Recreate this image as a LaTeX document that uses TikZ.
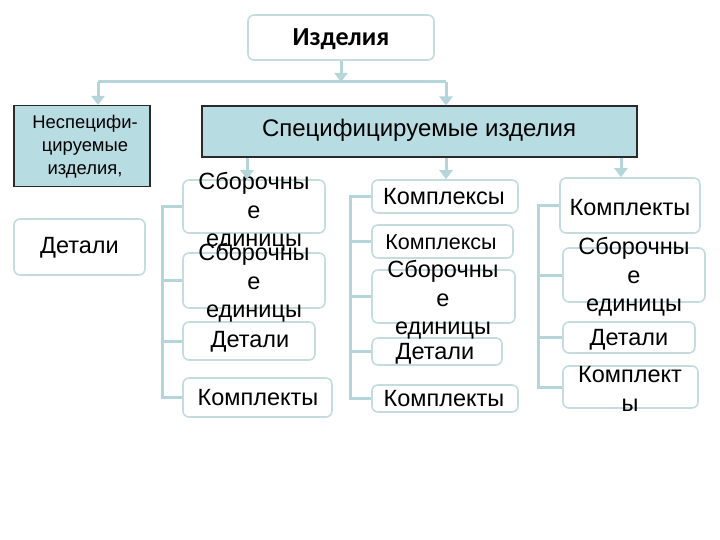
\documentclass[tikz,border=0pt]{standalone}
\usepackage{fontspec}
\setmainfont{Liberation Sans}
\newfontfamily\titlefont{Carlito}
\usetikzlibrary{arrows.meta}
\definecolor{linec}{HTML}{B4D6DB}
\definecolor{bordc}{HTML}{C4DCDE}
\definecolor{fillc}{HTML}{B7DDE2}
\definecolor{darkb}{HTML}{2A2A2A}
\tikzset{
  wbox/.style={draw=bordc, line width=1.6pt, rounded corners=6pt, fill=white, inner sep=0pt},
  fbox/.style={draw=darkb, line width=1.1pt, fill=fillc, inner sep=0pt},
  txt/.style={align=center, inner sep=0pt, text=black},
  conn/.style={draw=linec, line width=3pt},
  arr/.style={draw=linec, line width=3pt, -{Triangle[width=13pt,length=9pt]}},
  big/.style={font=\fontsize{23.5}{28.5}\selectfont}
}
\begin{document}
\begin{tikzpicture}[x=1pt,y=-1pt]
\useasboundingbox (0,0) rectangle (720,540);
% top
\node[wbox, minimum width=186pt, minimum height=45pt] (top) at (341,37.5) {};
\node[txt, font=\titlefont\bfseries\fontsize{26}{30}\selectfont] (topt) at (341,39) {Изделия};
% level 2
\node[fbox, minimum width=136pt, minimum height=81pt] (ns) at (82,146) {};
\node[txt, font=\fontsize{18.4}{23}\selectfont] (nst) at (85,147) {Неспецифи-\\цируемые\\изделия,};
\node[fbox, minimum width=435pt, minimum height=51pt] (sp) at (419.5,131.5) {};
\node[txt, font=\fontsize{24}{28}\selectfont] (spt) at (419,130) {Специфицируемые изделия};
\node[wbox, minimum width=131pt, minimum height=56pt] (ld) at (79.5,247) {};
\node[txt, big] (ldt) at (79.5,248) {Детали};
% connectors top
\coordinate (hl) at (98,82);
\coordinate (hr) at (446,82);
\draw[arr] (top.south) -- (top.south |- hl);
\draw[conn] (hl) -- (hr);
\draw[arr] (hl) -- (hl |- ns.north);
\draw[arr] (hr) -- (hr |- sp.north);
% column 1
\node[wbox, minimum width=142pt, minimum height=53pt] (a1) at (254,206.5) {};
\node[wbox, minimum width=142pt, minimum height=55pt] (a2) at (254,280.5) {};
\node[wbox, minimum width=132pt, minimum height=38pt] (a3) at (249,341) {};
\node[wbox, minimum width=149pt, minimum height=39pt] (a4) at (257.5,397.5) {};
\node[txt, big] (a1t) at (254,212) {Сборочны\\е\\единицы};
\node[txt, big] (a2t) at (254,283) {Сборочны\\е\\единицы};
\node[txt, big] (a3t) at (250,342) {Детали};
\node[txt, big] (a4t) at (258,398) {Комплекты};
\coordinate (c1) at (162,0);
\draw[conn] (a1.west) -- (a1.west -| c1) -- (a4.west -| c1) -- (a4.west);
\draw[conn] (a2.west -| c1) -- (a2.west);
\draw[conn] (a3.west -| c1) -- (a3.west);
% column 2
\node[wbox, minimum width=146pt, minimum height=33pt] (b1) at (445,196.5) {};
\node[wbox, minimum width=141pt, minimum height=33pt] (b2) at (442.5,241.5) {};
\node[wbox, minimum width=143pt, minimum height=53pt] (b3) at (443.5,296.5) {};
\node[wbox, minimum width=130pt, minimum height=27pt] (b4) at (437,351.5) {};
\node[wbox, minimum width=146pt, minimum height=27pt] (b5) at (445,398.5) {};
\node[txt, big] (b1t) at (444,197) {Комплексы};
\node[txt, font=\fontsize{21.5}{24}\selectfont] (b2t) at (441,242) {Комплексы};
\node[txt, big] (b3t) at (443,300) {Сборочны\\е\\единицы};
\node[txt, big] (b4t) at (435,354) {Детали};
\node[txt, big] (b5t) at (444,399) {Комплекты};
\coordinate (c2) at (350,0);
\draw[conn] (b1.west) -- (b1.west -| c2) -- (b5.west -| c2) -- (b5.west);
\draw[conn] (b2.west -| c2) -- (b2.west);
\draw[conn] (b3.west -| c2) -- (b3.west);
\draw[conn] (b4.west -| c2) -- (b4.west);
% column 3
\node[wbox, minimum width=140pt, minimum height=55pt] (d1) at (630,205.5) {};
\node[wbox, minimum width=142pt, minimum height=54pt] (d2) at (634,275) {};
\node[wbox, minimum width=132pt, minimum height=31pt] (d3) at (629,337.5) {};
\node[wbox, minimum width=135pt, minimum height=42pt] (d4) at (630.5,387) {};
\node[txt, big] (d1t) at (630,208) {Комплекты};
\node[txt, big] (d2t) at (634,277) {Сборочны\\е\\единицы};
\node[txt, big] (d3t) at (629,340) {Детали};
\node[txt, big] (d4t) at (630,389) {Комплект\\ы};
\coordinate (c3) at (538,0);
\draw[conn] (d1.west) -- (d1.west -| c3) -- (d4.west -| c3) -- (d4.west);
\draw[conn] (d2.west -| c3) -- (d2.west);
\draw[conn] (d3.west -| c3) -- (d3.west);
% arrows from spec box
\coordinate (x1) at (247,0);
\coordinate (x2) at (446,0);
\coordinate (x3) at (621,0);
\draw[arr] (sp.south -| x1) -- (a1.north -| x1);
\draw[arr] (sp.south -| x2) -- (b1.north -| x2);
\draw[arr] (sp.south -| x3) -- (d1.north -| x3);
\end{tikzpicture}
\end{document}
